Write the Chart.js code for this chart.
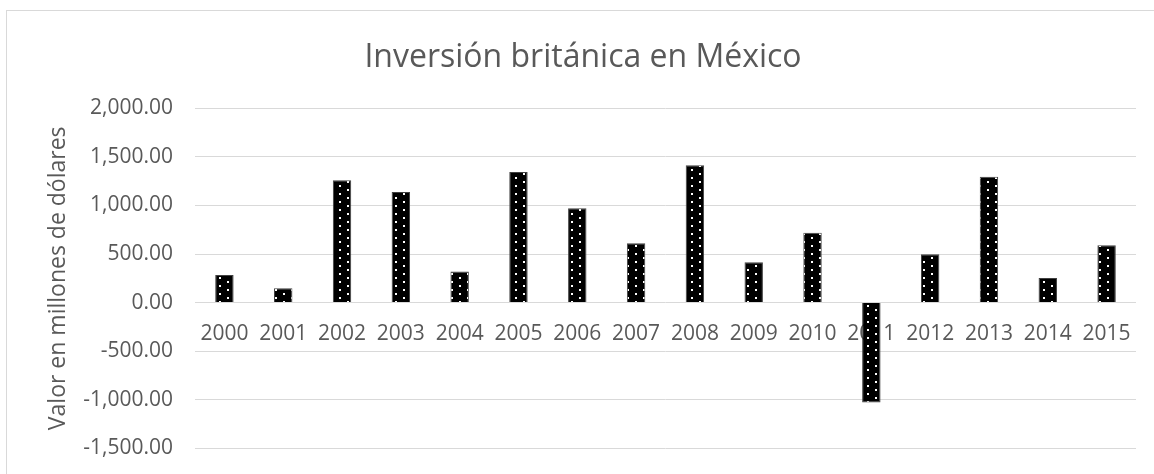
<!DOCTYPE html>
<html>
<head>
<meta charset="utf-8">
<script src="https://cdn.jsdelivr.net/npm/chart.js@4"></script>
<style>
  html, body { margin: 0; padding: 0; background: #fff; overflow: hidden; }
  canvas { display: block; }
</style>
</head>
<body>
<canvas id="myChart" width="1154" height="474" style="width:1154px;height:474px"></canvas>
<script>
const years = ["2000", "2001", "2002", "2003", "2004", "2005", "2006", "2007",
  "2008", "2009", "2010", "2011", "2012", "2013", "2014", "2015"];
const inversion = [285, 148, 1259, 1139, 319, 1345, 971, 611,
  1413, 416, 720, -1029, 498, 1296, 254, 590];
const yTicks = [-1500, -1000, -500, 0, 500, 1000, 1500, 2000];

const textColor = "#595959";
const gridColor = "#d9d9d9";

// black fill with small white dots (Excel dotted pattern)
function dotPattern() {
  const c = document.createElement("canvas");
  c.width = 16;
  c.height = 8;
  const g = c.getContext("2d");
  g.fillStyle = "#000";
  g.fillRect(0, 0, 16, 8);
  g.fillStyle = "#fff";
  g.fillRect(3, 1, 2, 2);
  g.fillRect(11, 5, 2, 2);
  return g.createPattern(c, "repeat");
}

const frame = {
  id: "frame",
  beforeDraw(chart) {
    const c = chart.ctx;
    c.save();
    c.strokeStyle = gridColor;
    c.lineWidth = 1;
    c.strokeRect(6.5, 10.5, 1170, 490);
    c.restore();
  },
};

const ctx = document.getElementById("myChart");
const myChart = new Chart(ctx, {
  type: "bar",
  data: {
    labels: years,
    datasets: [
      {
        label: "Inversión",
        data: inversion,
        backgroundColor: dotPattern(),
        borderColor: "#404040",
        borderWidth: 1,
        barPercentage: 0.313,
        categoryPercentage: 1,
      },
    ],
  },
  options: {
    responsive: false,
    animation: false,
    devicePixelRatio: 1,
    layout: { padding: { left: 30, right: 18, top: 0, bottom: 25.7 } },
    plugins: {
      legend: { display: false },
      tooltip: { enabled: false },
      title: {
        display: true,
        text: "Inversión británica en México",
        color: textColor,
        font: { family: "Open Sans", size: 32, weight: "normal", lineHeight: 1.2 },
        padding: { top: 39, bottom: 30.9 },
      },
    },
    scales: {
      x: {
        position: { y: 0 },
        grid: { display: false, drawTicks: false },
        border: { display: false },
        ticks: {
          color: textColor,
          padding: 19,
          maxRotation: 0,
          autoSkip: false,
          font: { family: "Open Sans", size: 21 },
        },
      },
      y: {
        min: yTicks[0],
        max: yTicks[yTicks.length - 1],
        afterBuildTicks(scale) {
          scale.ticks = yTicks.map((v) => ({ value: v }));
        },
        afterFit(scale) {
          scale.width = 165;
        },
        grid: {
          color: gridColor,
          lineWidth: 1,
          drawTicks: true,
          tickLength: 22,
          tickColor: "rgba(0,0,0,0)",
        },
        border: { display: false },
        ticks: {
          color: textColor,
          padding: 0,
          font: { family: "Open Sans", size: 21 },
          callback: (v) =>
            Number(v).toLocaleString("en-US", { minimumFractionDigits: 2, maximumFractionDigits: 2 }),
        },
        title: {
          display: true,
          text: "Valor en millones de dólares",
          color: textColor,
          font: { family: "Open Sans", size: 23 },
          padding: { top: 15, bottom: 0 },
        },
      },
    },
  },
  plugins: [frame],
});
</script>
</body>
</html>
